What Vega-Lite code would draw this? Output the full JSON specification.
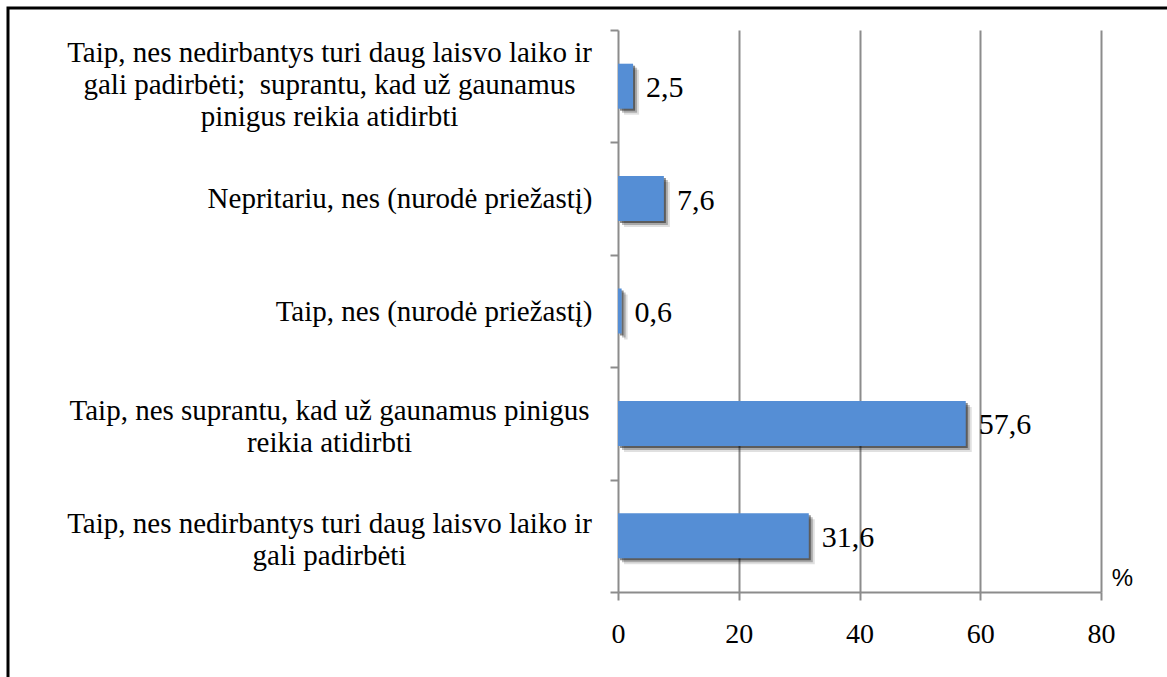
{
  "$schema": "https://vega.github.io/schema/vega-lite/v6.json",
  "autosize": {"type": "none"},
  "padding": {"left": 8, "top": 8, "right": 0, "bottom": 0},
  "width": 1200,
  "height": 700,
  "background": "white",
  "config": {
    "view": {"stroke": "black", "strokeWidth": 3},
    "locale": {"number": {"decimal": ",", "thousands": " ", "grouping": [3], "currency": ["", " €"]}}
  },
  "data": {
    "values": [
      {"label": "Taip, nes nedirbantys turi daug laisvo laiko ir|gali padirbėti;\u00a0 suprantu, kad už gaunamus|pinigus reikia atidirbti", "value": 2.5},
      {"label": "Nepritariu, nes (nurodė priežastį)", "value": 7.6},
      {"label": "Taip, nes (nurodė priežastį)", "value": 0.6},
      {"label": "Taip, nes suprantu, kad už gaunamus pinigus|reikia atidirbti", "value": 57.6},
      {"label": "Taip, nes nedirbantys turi daug laisvo laiko ir|gali padirbėti", "value": 31.6}
    ]
  },
  "resolve": {"axis": {"x": "independent", "y": "independent"}},
  "layer": [
    {
      "mark": {"type": "bar", "color": "black", "opacity": 0.0},
      "encoding": {
        "y": {
          "field": "label", "type": "nominal", "sort": null,
          "scale": {"range": [22, 584], "paddingInner": 0, "paddingOuter": 0},
          "axis": {
            "orient": "left",
            "title": null,
            "offset": -610,
            "domain": false,
            "ticks": true,
            "tickOpacity": 0,
            "tickSize": 8,
            "grid": false,
            "labelExpr": "length(split(datum.label, '|')) == 3 ? split(datum.label, '|') : ''",
            "labelFont": "Liberation Serif",
            "labelFontSize": 29,
            "labelColor": "black",
            "labelLineHeight": 32,
            "labelLimit": 700,
            "labelAlign": "center",
            "labelPadding": 281,
            "labelOffset": -33
          }
        },
        "x": {
          "field": "value", "type": "quantitative",
          "scale": {"domain": [0, 80], "range": [610, 1093], "nice": false},
          "axis": {"orient": "top", "values": [0, 20, 40, 60, 80], "domain": false, "ticks": false, "labels": false, "title": null, "grid": true, "gridColor": "#8c8c8c", "gridWidth": 2}
        }
      }
    },
    {
      "encoding": {
        "y": {
          "field": "label", "type": "nominal", "sort": null,
          "axis": {
            "orient": "left",
            "title": null,
            "offset": -610,
            "domain": false,
            "tickColor": "#8c8c8c",
            "tickWidth": 2,
            "tickSize": 8,
            "tickBand": "extent",
            "grid": false,
            "labelExpr": "indexof(datum.label, '|') >= 0 ? '' : datum.label",
            "labelFont": "Liberation Serif",
            "labelFontSize": 29,
            "labelColor": "black",
            "labelLimit": 700,
            "labelAlign": "right",
            "labelPadding": 18
          }
        },
        "x": {
          "field": "value",
          "type": "quantitative",
          "axis": {
            "offset": -116,
            "values": [0, 20, 40, 60, 80],
            "domainColor": "#8c8c8c",
            "domainWidth": 2,
            "tickColor": "#8c8c8c",
            "tickWidth": 2,
            "tickSize": 8,
            "grid": false,
            "labelFont": "Liberation Serif",
            "labelFontSize": 28,
            "labelColor": "black",
            "labelPadding": 20,
            "labelFlush": false,
            "title": "%",
            "titleFont": "Liberation Sans",
            "titleFontSize": 24,
            "titleFontWeight": "normal",
            "titleColor": "black",
            "titleAngle": 0,
            "titleX": 1114,
            "titleY": -14,
            "titleAlign": "center",
            "titleBaseline": "middle"
          }
        }
      },
      "layer": [
        {"mark": {"type": "bar", "color": "black", "opacity": 0.12, "xOffset": 6, "yOffset": 6, "size": 45}},
        {"mark": {"type": "bar", "color": "black", "opacity": 0.25, "xOffset": 4, "yOffset": 4, "size": 45}},
        {"mark": {"type": "bar", "color": "black", "opacity": 0.45, "xOffset": 2, "yOffset": 2, "size": 45}},
        {"mark": {"type": "bar", "color": "#558ed5", "size": 45}}
      ]
    },
    {
      "mark": {"type": "text", "align": "left", "baseline": "middle", "dx": 13, "dy": 2, "font": "Liberation Serif", "fontSize": 30, "color": "black"},
      "encoding": {
        "y": {
          "field": "label", "type": "nominal", "sort": null,
          "axis": {
            "orient": "left",
            "title": null,
            "offset": -610,
            "domain": false,
            "ticks": true,
            "tickOpacity": 0,
            "tickSize": 8,
            "grid": false,
            "labelExpr": "length(split(datum.label, '|')) == 2 ? split(datum.label, '|') : ''",
            "labelFont": "Liberation Serif",
            "labelFontSize": 29,
            "labelColor": "black",
            "labelLineHeight": 32,
            "labelLimit": 700,
            "labelAlign": "center",
            "labelPadding": 281,
            "labelOffset": -12
          }
        },
        "x": {"field": "value", "type": "quantitative", "axis": null},
        "text": {"field": "value", "type": "quantitative", "format": ".1f"}
      }
    }
  ]
}
